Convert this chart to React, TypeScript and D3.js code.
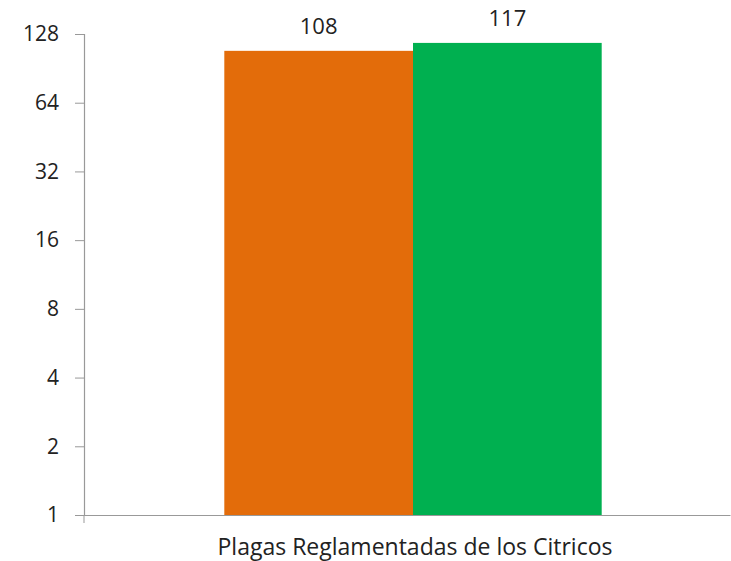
import * as d3 from "d3";
import { useEffect, useRef } from "react";

const W = 731;
const H = 561;
const margin = { top: 34, bottom: 46, left: 84, right: 1 };

const categories = ["Plagas Reglamentadas de los Citricos"];
const seriesNames = ["A", "B"];
const seriesValues = [108, 117];
const seriesColors = ["#E36C0A", "#00B050"];
const tickValues = [1, 2, 4, 8, 16, 32, 64, 128];

const FONT = "'Open Sans', 'Noto Sans', sans-serif";

const App = () => {
  const svgRef = useRef<SVGSVGElement | null>(null);

  useEffect(() => {
    const svg = d3.select(svgRef.current);
    svg.selectAll("*").remove();

    const width = W - margin.left - margin.right;
    const height = H - margin.top - margin.bottom;

    const g = svg
      .append("g")
      .attr("transform", `translate(${margin.left}, ${margin.top})`);

    const yScale = d3.scaleLog().base(2).domain([1, 128]).range([height, 0]);

    const xScale = d3.scaleBand().domain(categories).range([0, width]).padding(0);
    // inner band for the two series
    const inner = d3
      .scaleBand()
      .domain(seriesNames)
      .range([12, xScale.bandwidth()])
      .paddingOuter(0.68)
      .paddingInner(0);

    const bars = g.append("g");
    seriesValues.forEach((v, i) => {
      const x0 = (xScale(categories[0]) ?? 0) + (inner(seriesNames[i]) ?? 0);
      bars
        .append("rect")
        .attr("x", x0)
        .attr("y", yScale(v))
        .attr("width", inner.bandwidth())
        .attr("height", height - yScale(v))
        .attr("fill", seriesColors[i]);
      bars
        .append("text")
        .attr("x", x0 + inner.bandwidth() / 2)
        .attr("y", yScale(v) - 17)
        .attr("text-anchor", "middle")
        .attr("font-family", FONT)
        .attr("font-size", 22)
        .attr("fill", "#222")
        .text(v);
    });

    // y axis
    const yAxis = g
      .append("g")
      .call(
        d3
          .axisLeft(yScale)
          .tickValues(tickValues)
          .tickFormat((d) => String(d))
          .tickSize(9)
          .tickPadding(16)
      );
    yAxis.select(".domain").attr("stroke", "#999").attr("stroke-width", 1.2);
    yAxis.selectAll(".tick line").attr("stroke", "#999");
    yAxis
      .selectAll("text")
      .attr("font-family", FONT)
      .attr("font-size", 21)
      .attr("fill", "#222");

    // x axis
    const xAxis = g
      .append("g")
      .attr("transform", `translate(0, ${height})`)
      .call(d3.axisBottom(xScale).tickSize(0).tickPadding(24));
    xAxis.select(".domain").attr("stroke", "#999").attr("stroke-width", 1.2);
    xAxis
      .selectAll("text")
      .attr("font-family", FONT)
      .attr("font-size", 23)
      .attr("fill", "#222")
      .attr("dx", 8);
    xAxis
      .append("line")
      .attr("x1", 0)
      .attr("x2", 0)
      .attr("y1", 0)
      .attr("y2", 8)
      .attr("stroke", "#999");
  }, []);

  return (
    <svg
      ref={svgRef}
      width={W}
      height={H}
      style={{ position: "absolute", left: 0, top: 0, background: "#fff" }}
    />
  );
};

export default App;
